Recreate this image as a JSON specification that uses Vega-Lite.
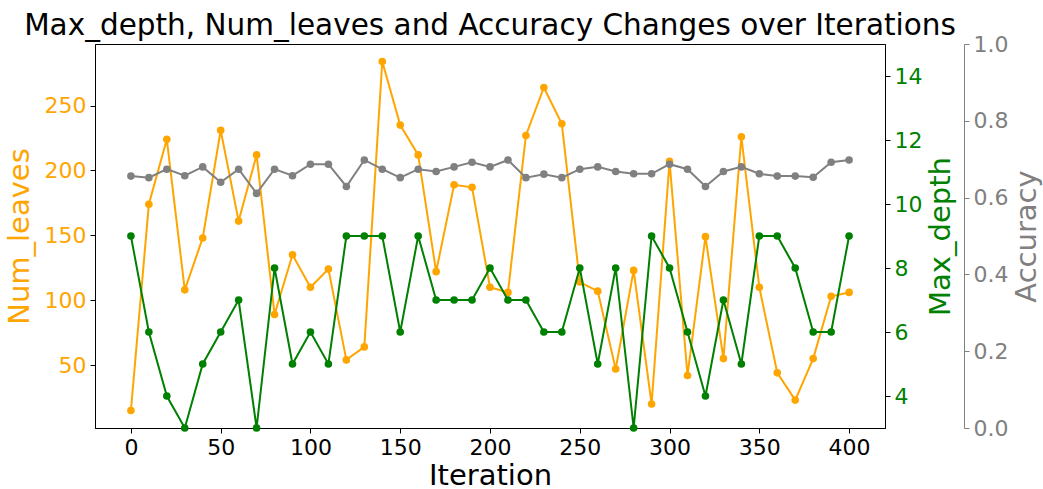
{
  "$schema": "https://vega.github.io/schema/vega-lite/v6.json",
  "autosize": {"type": "none"},
  "padding": {"left": 95, "top": 44, "right": 158, "bottom": 61},
  "width": 790,
  "height": 384,
  "background": "white",
  "config": {
    "font": "DejaVu Sans",
    "view": {"stroke": "black", "strokeWidth": 1},
    "axis": {"grid": false, "labelFont": "DejaVu Sans", "titleFont": "DejaVu Sans", "labelFontSize": 22, "titleFontSize": 29, "titleFontWeight": "normal", "tickSize": 5, "labelPadding": 4, "domainColor": "black", "tickColor": "black", "labelColor": "black", "titleColor": "black"}
  },
  "title": {"text": "Max_depth, Num_leaves and Accuracy Changes over Iterations", "fontSize": 29.5, "font": "DejaVu Sans", "fontWeight": "normal", "color": "black", "anchor": "middle", "offset": -8},
  "data": {"values": [
    {"iter": 0, "leaves": 15, "depth": 9, "acc": 0.656},
    {"iter": 10, "leaves": 174, "depth": 6, "acc": 0.652},
    {"iter": 20, "leaves": 224, "depth": 4, "acc": 0.674},
    {"iter": 30, "leaves": 108, "depth": 3, "acc": 0.657},
    {"iter": 40, "leaves": 148, "depth": 5, "acc": 0.680},
    {"iter": 50, "leaves": 231, "depth": 6, "acc": 0.640},
    {"iter": 60, "leaves": 161, "depth": 7, "acc": 0.674},
    {"iter": 70, "leaves": 212, "depth": 3, "acc": 0.611},
    {"iter": 80, "leaves": 89, "depth": 8, "acc": 0.674},
    {"iter": 90, "leaves": 135, "depth": 5, "acc": 0.657},
    {"iter": 100, "leaves": 110, "depth": 6, "acc": 0.687},
    {"iter": 110, "leaves": 124, "depth": 5, "acc": 0.687},
    {"iter": 120, "leaves": 54, "depth": 9, "acc": 0.629},
    {"iter": 130, "leaves": 64, "depth": 9, "acc": 0.698},
    {"iter": 140, "leaves": 284, "depth": 9, "acc": 0.674},
    {"iter": 150, "leaves": 235, "depth": 6, "acc": 0.652},
    {"iter": 160, "leaves": 212, "depth": 9, "acc": 0.674},
    {"iter": 170, "leaves": 122, "depth": 7, "acc": 0.668},
    {"iter": 180, "leaves": 189, "depth": 7, "acc": 0.680},
    {"iter": 190, "leaves": 187, "depth": 7, "acc": 0.692},
    {"iter": 200, "leaves": 110, "depth": 8, "acc": 0.680},
    {"iter": 210, "leaves": 106, "depth": 7, "acc": 0.698},
    {"iter": 220, "leaves": 227, "depth": 7, "acc": 0.652},
    {"iter": 230, "leaves": 264, "depth": 6, "acc": 0.661},
    {"iter": 240, "leaves": 236, "depth": 6, "acc": 0.652},
    {"iter": 250, "leaves": 114, "depth": 8, "acc": 0.674},
    {"iter": 260, "leaves": 107, "depth": 5, "acc": 0.680},
    {"iter": 270, "leaves": 47, "depth": 8, "acc": 0.668},
    {"iter": 280, "leaves": 123, "depth": 3, "acc": 0.662},
    {"iter": 290, "leaves": 20, "depth": 9, "acc": 0.662},
    {"iter": 300, "leaves": 207, "depth": 8, "acc": 0.687},
    {"iter": 310, "leaves": 42, "depth": 6, "acc": 0.674},
    {"iter": 320, "leaves": 149, "depth": 4, "acc": 0.629},
    {"iter": 330, "leaves": 55, "depth": 7, "acc": 0.668},
    {"iter": 340, "leaves": 226, "depth": 5, "acc": 0.680},
    {"iter": 350, "leaves": 110, "depth": 9, "acc": 0.662},
    {"iter": 360, "leaves": 44, "depth": 9, "acc": 0.656},
    {"iter": 370, "leaves": 23, "depth": 8, "acc": 0.656},
    {"iter": 380, "leaves": 55, "depth": 6, "acc": 0.653},
    {"iter": 390, "leaves": 103, "depth": 6, "acc": 0.692},
    {"iter": 400, "leaves": 106, "depth": 9, "acc": 0.698}
  ]},
  "layer": [
    {
      "mark": {"type": "line", "color": "#FFA500", "strokeWidth": 2, "point": {"filled": true, "size": 58, "color": "#FFA500", "opacity": 1}},
      "encoding": {
        "x": {"field": "iter", "type": "quantitative", "scale": {"domain": [-20, 420], "nice": false, "zero": false}, "axis": {"title": "Iteration", "values": [0, 50, 100, 150, 200, 250, 300, 350, 400], "titlePadding": 3}},
        "y": {"field": "leaves", "type": "quantitative", "scale": {"domain": [1.5, 297.5], "nice": false, "zero": false}, "axis": {"orient": "left", "title": "Num_leaves", "values": [50, 100, 150, 200, 250], "labelColor": "#FFA500", "titleColor": "#FFA500", "titlePadding": 10}}
      }
    },
    {
      "mark": {"type": "line", "color": "#008000", "strokeWidth": 2, "point": {"filled": true, "size": 58, "color": "#008000", "opacity": 1}},
      "encoding": {
        "x": {"field": "iter", "type": "quantitative"},
        "y": {"field": "depth", "type": "quantitative", "scale": {"domain": [3, 15], "nice": false, "zero": false}, "axis": {"orient": "right", "title": "Max_depth", "values": [4, 6, 8, 10, 12, 14], "labelColor": "#008000", "titleColor": "#008000", "titleAngle": 270, "titlePadding": 34}}
      }
    },
    {
      "mark": {"type": "line", "color": "#808080", "strokeWidth": 2, "point": {"filled": true, "size": 58, "color": "#808080", "opacity": 1}},
      "encoding": {
        "x": {"field": "iter", "type": "quantitative"},
        "y": {"field": "acc", "type": "quantitative", "scale": {"domain": [0, 1], "nice": false, "zero": false}, "axis": {"orient": "right", "offset": 79, "title": "Accuracy", "values": [0, 0.2, 0.4, 0.6, 0.8, 1.0], "format": ".1f", "labelColor": "#808080", "titleColor": "#808080", "domainColor": "#808080", "tickColor": "#808080", "titleAngle": 270, "titlePadding": 34}}
      }
    }
  ],
  "resolve": {"scale": {"y": "independent"}}
}
